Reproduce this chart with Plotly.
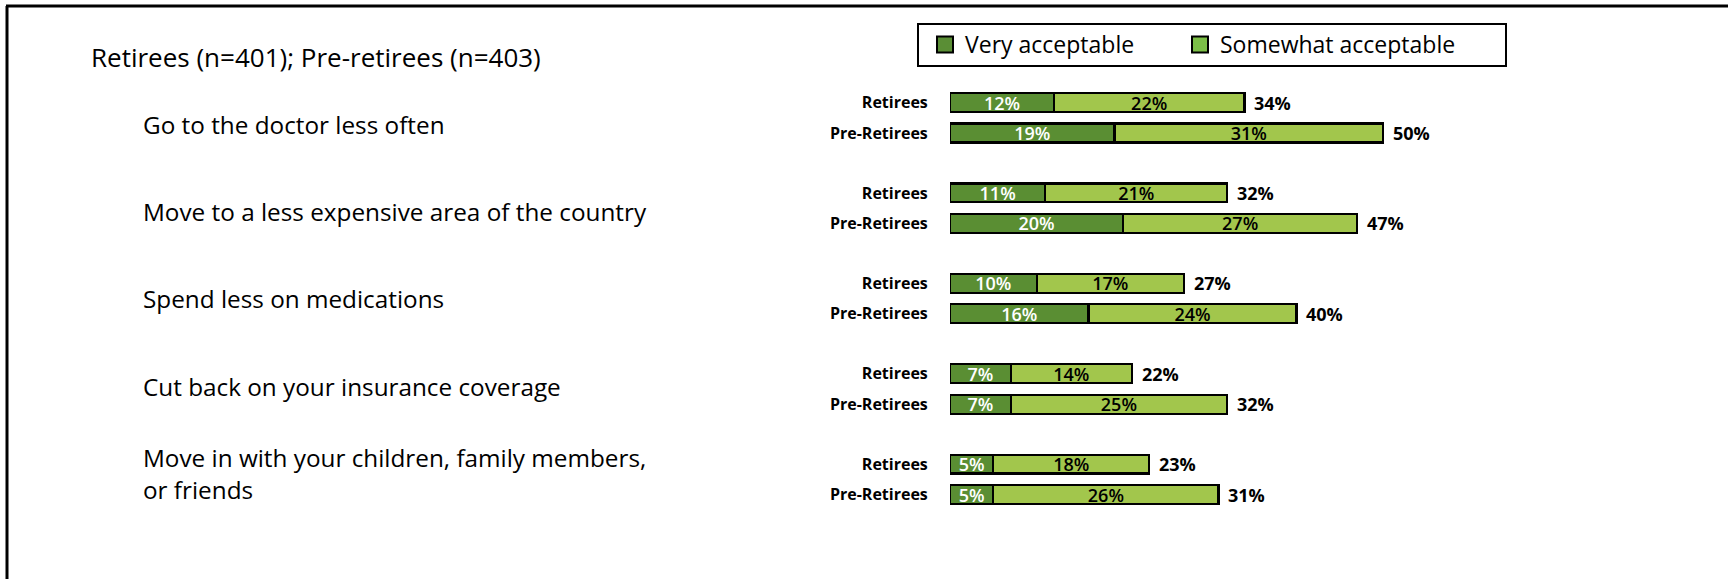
import plotly.graph_objects as go

# Survey results: share who find each cost-cutting action acceptable
categories = [
    "Go to the doctor less often",
    "Move to a less expensive area of the country",
    "Spend less on medications",
    "Cut back on your insurance coverage",
    "Move in with your children, family members,<br>or friends",
]
groups = ["Retirees", "Pre-Retirees"]

retirees_very = [12, 11, 10, 7, 5]
retirees_somewhat = [22, 21, 17, 14, 18]
retirees_total = [34, 32, 27, 22, 23]

pre_very = [19, 20, 16, 7, 5]
pre_somewhat = [31, 27, 24, 25, 26]
pre_total = [50, 47, 40, 32, 31]

title_text = "Retirees (n=401); Pre-retirees (n=403)"

# Styling
W, H = 1728, 579
DARK = "#5a8e33"
LIGHT = "#a2c64c"
LEG_DARK = "#5a8e35"
LEG_LIGHT = "#7cbf47"
FONT = "'Open Sans', Lato, sans-serif"

GROUP_GAP = 2.964  # distance between question groups, in row units
ROW_PX = 30.5      # pixel height of one row unit
FIRST_ROW_PX = 102.5
PX_PER_PCT = 8.66
BAR_X0_PX = 950

LABEL_TOP_PX = 124.5   # vertical centre of the first question label
LABEL_STEP_PX = 87.2   # spacing between question labels

# Row positions for each bar
ret_y = [i * GROUP_GAP for i in range(len(categories))]
pre_y = [i * GROUP_GAP + 1 for i in range(len(categories))]

y_top = -FIRST_ROW_PX / ROW_PX
y_bottom = (H - FIRST_ROW_PX) / ROW_PX
x_max = (W - BAR_X0_PX) / PX_PER_PCT

fig = go.Figure()

bar_line = dict(color="black", width=2.2)
seg_font_white = dict(family=FONT, size=18, color="white", weight=600)
seg_font_black = dict(family=FONT, size=18, color="black", weight=600)

ys = ret_y + pre_y
very = retirees_very + pre_very
somewhat = retirees_somewhat + pre_somewhat
totals = retirees_total + pre_total

fig.add_trace(go.Bar(
    x=very, y=ys, orientation="h", width=0.62,
    marker=dict(color=DARK, line=bar_line),
    text=[f"{v}%" for v in very], textposition="inside",
    insidetextanchor="middle", constraintext="none",
    textfont=seg_font_white, showlegend=False, hoverinfo="skip",
))
fig.add_trace(go.Bar(
    x=somewhat, y=ys, orientation="h", width=0.62,
    marker=dict(color=LIGHT, line=bar_line),
    text=[f"{v}%" for v in somewhat], textposition="inside",
    insidetextanchor="middle", constraintext="none",
    textfont=seg_font_black, showlegend=False, hoverinfo="skip",
))

# Legend entries (one legend each so they can sit at their own offsets)
fig.add_trace(go.Scatter(
    x=[None], y=[None], mode="markers", name="Very acceptable",
    legend="legend",
    marker=dict(symbol="square", size=16, color=LEG_DARK,
                line=dict(color="black", width=2)),
))
fig.add_trace(go.Scatter(
    x=[None], y=[None], mode="markers", name="Somewhat acceptable",
    legend="legend2",
    marker=dict(symbol="square", size=16, color=LEG_LIGHT,
                line=dict(color="black", width=2)),
))

annotations = []
# Totals at the end of each bar
for yv, v, s, t in zip(ys, very, somewhat, totals):
    annotations.append(dict(
        x=v + s, y=yv, xref="x", yref="y", text=f"<b>{t}%</b>",
        showarrow=False, xanchor="left", yanchor="middle", xshift=8,
        font=dict(family=FONT, size=18, color="black"),
    ))

# Question labels on the left
for i, cat in enumerate(categories):
    annotations.append(dict(
        x=141 / W, y=1 - (LABEL_TOP_PX + i * LABEL_STEP_PX) / H,
        xref="paper", yref="paper", text=cat,
        showarrow=False, xanchor="left", yanchor="middle", align="left",
        font=dict(family=FONT, size=24.3, color="black"),
    ))

annotations.append(dict(
    x=89 / W, y=1 - 57 / H, xref="paper", yref="paper", text=title_text,
    showarrow=False, xanchor="left", yanchor="middle",
    font=dict(family=FONT, size=26, color="black"),
))

shapes = [
    # frame lines
    dict(type="line", xref="paper", yref="paper", x0=6 / W, x1=1,
         y0=1 - 6 / H, y1=1 - 6 / H, line=dict(color="black", width=3)),
    dict(type="line", xref="paper", yref="paper", x0=7 / W, x1=7 / W,
         y0=1 - 6 / H, y1=0, line=dict(color="black", width=3)),
    # legend box
    dict(type="rect", xref="paper", yref="paper", x0=918 / W, x1=1506 / W,
         y0=1 - 66 / H, y1=1 - 24 / H, line=dict(color="black", width=2)),
]

legend_common = dict(orientation="h", xanchor="left", yanchor="top",
                     bgcolor="rgba(0,0,0,0)", borderwidth=0,
                     font=dict(family=FONT, size=23, color="black"))

fig.update_layout(
    width=W, height=H,
    margin=dict(l=0, r=0, t=0, b=0),
    paper_bgcolor="white", plot_bgcolor="white",
    barmode="stack",
    font=dict(family=FONT),
    xaxis=dict(domain=[BAR_X0_PX / W, 1], range=[0, x_max],
               visible=False, fixedrange=True),
    yaxis=dict(range=[y_bottom, y_top], fixedrange=True,
               tickvals=ys, ticktext=[groups[0]] * 5 + [groups[1]] * 5,
               ticks="outside", ticklen=18, tickcolor="rgba(0,0,0,0)",
               showgrid=False, zeroline=False, showline=False,
               tickfont=dict(family=FONT, size=16, color="black", weight="bold")),
    showlegend=True,
    legend=dict(x=925 / W, y=1 - 23 / H, **legend_common),
    legend2=dict(x=1180 / W, y=1 - 23 / H, **legend_common),
    annotations=annotations,
    shapes=shapes,
)

fig.write_html("out.html")
